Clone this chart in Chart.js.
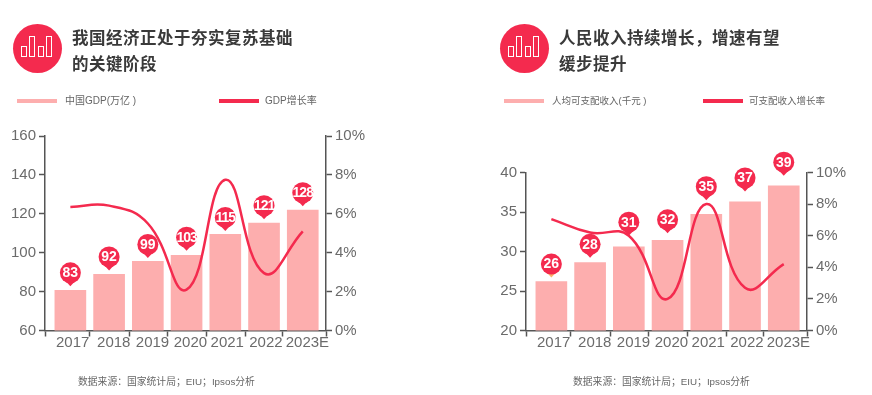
<!DOCTYPE html>
<html>
<head>
<meta charset="utf-8">
<script src="https://cdn.jsdelivr.net/npm/chart.js@4"></script>
<style>
  html, body { margin: 0; padding: 0; background: #fff; }
  #page { position: relative; width: 872px; height: 395px; overflow: hidden; font-family: "Liberation Sans", "Noto Sans CJK SC", sans-serif; }
  .panel { position: absolute; top: 0; width: 380px; height: 120px; }
  .icon { position: absolute; left: 13px; top: 24px; width: 49px; height: 49px; border-radius: 50%; background: #f42a4e; }
  .icon i { position: absolute; bottom: 16px; box-sizing: border-box; border: 1.5px solid #fff; width: 6px; }
  .title { position: absolute; left: 72px; top: 24px; font-family: "Noto Sans CJK SC", sans-serif; font-size: 16.5px; font-weight: 700; line-height: 26px; letter-spacing: 0.5px; color: #3a3a3a; white-space: nowrap; }
  .swatch { position: absolute; top: 99px; width: 40px; height: 4px; }
  .legend { position: absolute; top: 93px; font-size: 10px; line-height: 15px; color: #666; white-space: nowrap; }
  .source { position: absolute; top: 374px; font-size: 9.8px; line-height: 15px; color: #666; white-space: nowrap; }
  canvas { position: absolute; top: 0; }
</style>
</head>
<body>
<div id="page">
  <canvas id="gdpChart" style="left:0"></canvas>
  <canvas id="incomeChart" style="left:481px"></canvas>

  <div class="panel" style="left:0">
    <div class="icon"><i style="left:8px;height:11px"></i><i style="left:16px;height:21px"></i><i style="left:25px;height:11px"></i><i style="left:33px;height:21px"></i></div>
    <div class="title">我国经济正处于夯实复苏基础<br>的关键阶段</div>
    <div class="swatch" style="left:17px;background:#fdaeae"></div>
    <div class="legend" style="left:65px">中国GDP(万亿 )</div>
    <div class="swatch" style="left:219px;background:#f42a4e"></div>
    <div class="legend" style="left:265px">GDP增长率</div>
  </div>
  <div class="panel" style="left:487px">
    <div class="icon"><i style="left:8px;height:11px"></i><i style="left:16px;height:21px"></i><i style="left:25px;height:11px"></i><i style="left:33px;height:21px"></i></div>
    <div class="title">人民收入持续增长，增速有望<br>缓步提升</div>
    <div class="swatch" style="left:17px;background:#fdaeae"></div>
    <div class="legend" style="left:65px;font-size:9.5px">人均可支配收入(千元 )</div>
    <div class="swatch" style="left:216px;background:#f42a4e"></div>
    <div class="legend" style="left:262px;font-size:9.5px">可支配收入增长率</div>
  </div>

  <div class="source" style="left:78px">数据来源：国家统计局；EIU；Ipsos分析</div>
  <div class="source" style="left:573px">数据来源：国家统计局；EIU；Ipsos分析</div>
</div>

<script>
const categories = ['2017', '2018', '2019', '2020', '2021', '2022', '2023E'];

const gdpBars = [80.6, 88.9, 95.6, 98.7, 109.5, 115.2, 121.9];
const gdpGrowth = [6.35, 6.42, 5.5, 2.1, 7.75, 2.95, 5.1];
const gdpPinTips = [82.7, 90.9, 97.3, 101, 111.2, 117.2, 123.9];
const gdpPinLabels = ['83', '92', '99', '103', '115', '121', '128'];

const incomeBars = [26.2, 28.6, 30.6, 31.4, 34.7, 36.3, 38.3];
const incomeGrowth = [7.05, 6.2, 6.0, 2.0, 8.0, 2.7, 4.2];
const incomePinTips = [26.7, 29.2, 32, 32.3, 36.5, 37.6, 39.6];
const incomePinLabels = ['26', '28', '31', '32', '35', '37', '39'];

const RED = '#f42a4e';
const PINK = '#fdaeae';
const AXIS = '#555';
const TICK_TEXT = '#6b6b6b';
const TICK_FONT = { family: '"Liberation Sans", sans-serif', size: 15 };

// index positions on the x axis: marks between bars, and the slightly off-centre year labels
const xMin = -0.655, xMax = 6.6;
const xMarks = [-0.655, 0.5, 1.53, 2.52, 3.51, 4.51, 5.48, 6.6];
const xLabelSpots = [0.06, 1.12, 2.12, 3.1, 4.05, 5.05, 6.12];

const pinPlugin = {
  id: 'pins',
  afterDatasetsDraw(chart, args, opts) {
    const ctx = chart.ctx;
    chart.getDatasetMeta(2).data.forEach(function(pt, i) {
      const x = pt.x, tip = pt.y, cy = tip - 13.5;
      ctx.save();
      ctx.fillStyle = (opts.tipColors && opts.tipColors[i]) || RED;
      ctx.beginPath();
      ctx.moveTo(x - 6, cy + 7);
      ctx.lineTo(x + 6, cy + 7);
      ctx.lineTo(x, tip);
      ctx.closePath();
      ctx.fill();
      ctx.fillStyle = RED;
      ctx.beginPath();
      ctx.arc(x, cy, 10.5, 0, Math.PI * 2);
      ctx.fill();
      ctx.fillStyle = '#fff';
      ctx.font = 'bold 14px "Liberation Sans", sans-serif';
      ctx.letterSpacing = opts.labels[i].length > 2 ? '-1px' : '0px';
      ctx.textAlign = 'center';
      ctx.textBaseline = 'middle';
      ctx.fillText(opts.labels[i], x, cy + 0.5);
      ctx.restore();
    });
  }
};

function toPoints(values) {
  return values.map(function(v, i) { return { x: i, y: v }; });
}

function drawChart(id, bars, growth, tips, labels, yMin, yMax, yStep, top, tipColors) {
  const canvas = document.getElementById(id);
  canvas.width = 436;
  canvas.height = 395;
  canvas.style.width = '436px';
  canvas.style.height = '395px';

  new Chart(canvas, {
    type: 'bar',
    plugins: [pinPlugin],
    data: {
      datasets: [
        { type: 'bar', data: toPoints(bars), backgroundColor: PINK, barThickness: 31, order: 3, xAxisID: 'x', yAxisID: 'y' },
        { type: 'line', data: toPoints(growth), borderColor: RED, borderWidth: 2.5, tension: 0.45, pointRadius: 0, order: 2, clip: false, xAxisID: 'x', yAxisID: 'y2' },
        { type: 'line', data: toPoints(tips), showLine: false, pointRadius: 0, order: 1, clip: false, xAxisID: 'x', yAxisID: 'y' }
      ]
    },
    options: {
      responsive: false,
      animation: false,
      layout: { padding: { top: top, bottom: 38.5, left: 0, right: 0 } },
      plugins: {
        legend: { display: false },
        tooltip: { enabled: false },
        pins: { labels: labels, tipColors: tipColors }
      },
      scales: {
        x: {
          type: 'linear',
          position: 'bottom',
          min: xMin,
          max: xMax,
          offset: false,
          afterBuildTicks: function(s) { s.ticks = xMarks.map(function(v) { return { value: v }; }); },
          afterFit: function(s) { s.height = 6; },
          ticks: { display: false, autoSkip: false },
          grid: { offset: false, drawOnChartArea: false, tickLength: 6, tickColor: AXIS, tickWidth: 1.5 },
          border: { color: AXIS, width: 1.5 }
        },
        xNames: {
          type: 'linear',
          position: 'bottom',
          min: xMin,
          max: xMax,
          offset: false,
          afterBuildTicks: function(s) { s.ticks = xLabelSpots.map(function(v) { return { value: v }; }); },
          afterFit: function(s) { s.height = 20; },
          ticks: {
            autoSkip: false,
            maxRotation: 0,
            padding: -3,
            color: TICK_TEXT,
            font: TICK_FONT,
            callback: function(v, i) { return categories[i]; }
          },
          grid: { offset: false, display: false, drawTicks: false },
          border: { display: false }
        },
        y: {
          position: 'left',
          min: yMin,
          max: yMax,
          afterFit: function(s) { s.width = 45; },
          ticks: { stepSize: yStep, padding: 3, color: TICK_TEXT, font: TICK_FONT },
          grid: { drawOnChartArea: false, tickLength: 6, tickColor: AXIS, tickWidth: 1.5 },
          border: { color: AXIS, width: 1.5 }
        },
        y2: {
          position: 'right',
          min: 0,
          max: 10,
          afterFit: function(s) { s.width = 110; },
          ticks: { stepSize: 2, padding: 3, color: TICK_TEXT, font: TICK_FONT, callback: function(v) { return v + '%'; } },
          grid: { drawOnChartArea: false, tickLength: 6, tickColor: AXIS, tickWidth: 1.5 },
          border: { color: AXIS, width: 1.5 }
        }
      }
    }
  });
}

drawChart('gdpChart', gdpBars, gdpGrowth, gdpPinTips, gdpPinLabels, 60, 160, 20, 136);
drawChart('incomeChart', incomeBars, incomeGrowth, incomePinTips, incomePinLabels, 20, 40, 5, 172.5, ['#fbb36a']);
</script>
</body>
</html>
